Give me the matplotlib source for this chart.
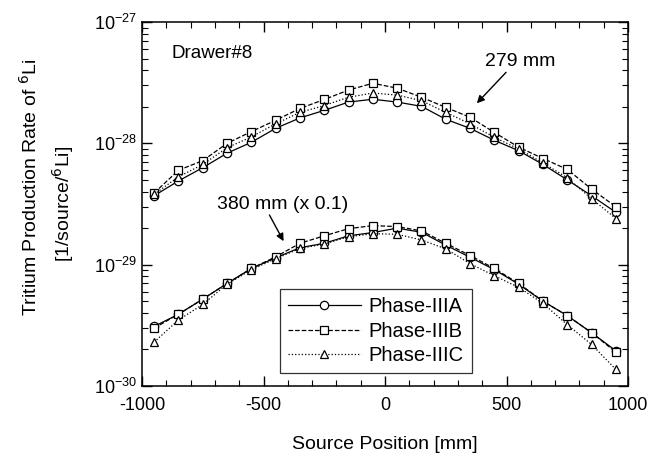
import matplotlib.pyplot as plt
from matplotlib.ticker import FixedLocator, MultipleLocator, NullFormatter, LogFormatterMathtext

plt.rcParams['font.family'] = ['Liberation Sans', 'DejaVu Sans']
plt.rcParams['axes.unicode_minus'] = False

# source positions [mm]
position = [-950, -850, -750, -650, -550, -450, -350, -250, -150, -50,
            50, 150, 250, 350, 450, 550, 650, 750, 850, 950]

# 279 mm
upper_a = [3.7e-29, 4.9e-29, 6.3e-29, 8.3e-29, 1.02e-28, 1.33e-28, 1.62e-28, 1.87e-28, 2.19e-28, 2.31e-28,
           2.19e-28, 2.02e-28, 1.58e-28, 1.33e-28, 1.06e-28, 8.7e-29, 6.7e-29, 5.0e-29, 3.7e-29, 2.7e-29]
upper_b = [3.9e-29, 6.0e-29, 7.2e-29, 1.0e-28, 1.25e-28, 1.55e-28, 1.94e-28, 2.3e-28, 2.75e-28, 3.13e-28,
           2.85e-28, 2.4e-28, 1.98e-28, 1.64e-28, 1.23e-28, 9.3e-29, 7.5e-29, 6.1e-29, 4.2e-29, 3.0e-29]
upper_c = [3.8e-29, 5.3e-29, 6.7e-29, 9.2e-29, 1.13e-28, 1.45e-28, 1.8e-28, 2.05e-28, 2.4e-28, 2.6e-28,
           2.5e-28, 2.25e-28, 1.8e-28, 1.45e-28, 1.12e-28, 9.0e-29, 6.9e-29, 5.2e-29, 3.5e-29, 2.4e-29]

# 380 mm, scaled by 0.1
lower_a = [3.1e-30, 3.9e-30, 5.2e-30, 7.0e-30, 9.3e-30, 1.14e-29, 1.38e-29, 1.5e-29, 1.73e-29, 1.84e-29,
           2.0e-29, 1.85e-29, 1.45e-29, 1.15e-29, 9.1e-30, 6.9e-30, 5.0e-30, 3.8e-30, 2.75e-30, 1.95e-30]
lower_b = [3.0e-30, 3.9e-30, 5.2e-30, 7.0e-30, 9.3e-30, 1.16e-29, 1.5e-29, 1.73e-29, 1.98e-29, 2.1e-29,
           2.06e-29, 1.9e-29, 1.5e-29, 1.19e-29, 9.3e-30, 7.0e-30, 5.0e-30, 3.8e-30, 2.75e-30, 1.9e-30]
lower_c = [2.3e-30, 3.5e-30, 4.7e-30, 6.9e-30, 9.1e-30, 1.12e-29, 1.36e-29, 1.48e-29, 1.7e-29, 1.8e-29,
           1.78e-29, 1.6e-29, 1.35e-29, 1.02e-29, 8.1e-30, 6.5e-30, 4.8e-30, 3.2e-30, 2.2e-30, 1.37e-30]

labels = ['Phase-IIIA', 'Phase-IIIB', 'Phase-IIIC']
styles = [('-', 'o'), ('--', 's'), (':', '^')]

decades = [1e-30, 1e-29, 1e-28, 1e-27]

fig = plt.figure(figsize=(6.55, 4.66), dpi=100)
ax = fig.add_axes([0.2168, 0.1717, 0.742, 0.781])

for (ls, mk), lab, up, lo in zip(styles, labels, [upper_a, upper_b, upper_c], [lower_a, lower_b, lower_c]):
    kw = dict(color='black', linestyle=ls, linewidth=0.9, marker=mk, markersize=6,
              markerfacecolor='white', markeredgecolor='black', markeredgewidth=0.9)
    ax.plot(position, up, label=lab, **kw)
    ax.plot(position, lo, **kw)

ax.set_yscale('log')
ax.set_xlim(-1000, 1000)
ax.set_ylim(decades[0], decades[-1])
ax.xaxis.set_major_locator(MultipleLocator(500))
ax.xaxis.set_minor_locator(MultipleLocator(100))
ax.yaxis.set_major_locator(FixedLocator(decades))
ax.yaxis.set_major_formatter(LogFormatterMathtext())
ax.yaxis.set_minor_locator(FixedLocator([k * d for d in decades[:-1] for k in range(2, 10)]))
ax.yaxis.set_minor_formatter(NullFormatter())
ax.tick_params(which='both', direction='in', top=True, right=True, labelsize=13)
ax.tick_params(which='major', length=7, width=1)
ax.tick_params(which='minor', length=4, width=0.8)
ax.tick_params(axis='x', pad=8)
for s in ax.spines.values():
    s.set_linewidth(1.1)

ax.set_xlabel('Source Position [mm]', fontsize=14, labelpad=16)
fig.text(0.045, 0.597, 'Tritium Production Rate of $^{6}$Li', fontsize=14,
         rotation=90, ha='center', va='center')
fig.text(0.096, 0.562, '[1/source/$^{6}$Li]', fontsize=14,
         rotation=90, ha='center', va='center')

ax.text(-880, 5.1e-28, 'Drawer#8', fontsize=13.5)

# labels for the two curve groups, with arrows
ax.text(410, 4.35e-28, '279 mm', fontsize=14)
ax.annotate('', xy=(370, 2.06e-28), xytext=(506, 4.0e-28),
            arrowprops=dict(arrowstyle='-|>', color='black', lw=1, mutation_scale=11))
ax.text(-691, 2.9e-29, '380 mm (x 0.1)', fontsize=14)
ax.annotate('', xy=(-412, 1.49e-29), xytext=(-481, 2.69e-29),
            arrowprops=dict(arrowstyle='-|>', color='black', lw=1, mutation_scale=11))

leg = ax.legend(loc='lower left', bbox_to_anchor=(0.284, 0.035), fontsize=14.5, frameon=True,
                fancybox=False, edgecolor='black', handlelength=3.6, borderpad=0.4,
                labelspacing=0.28, handletextpad=0.4, borderaxespad=0)
leg.get_frame().set_linewidth(0.9)

fig.savefig('out.png', dpi=100)
